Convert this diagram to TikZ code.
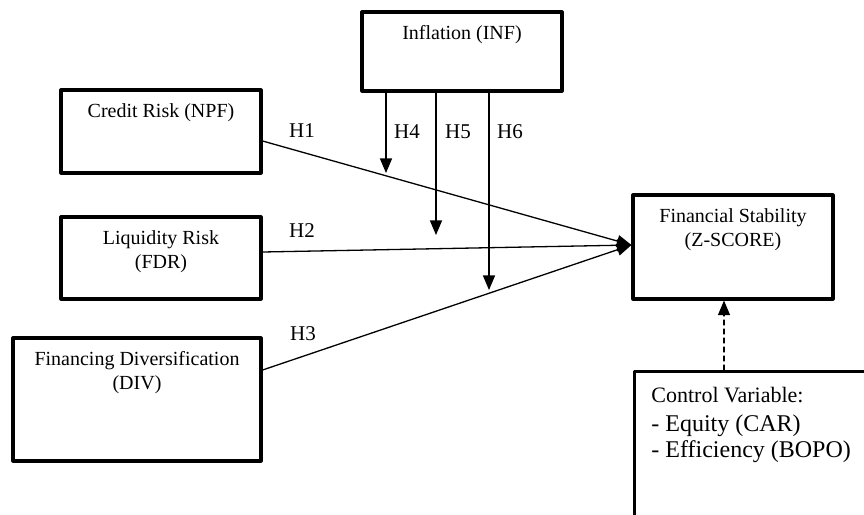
\documentclass[tikz,border=0pt]{standalone}
\usepackage{fontspec}
\setmainfont{Liberation Serif}
\usepackage{tikz}
\usetikzlibrary{arrows}

\tikzset{
  box/.style={draw,rectangle,line width=1.6pt,inner sep=0pt},
  boxtext/.style={anchor=north,align=center,inner sep=2pt,font=\fontsize{10}{11.8}\selectfont},
  link/.style={line width=0.65pt},
  hyp/.style={inner sep=1pt,font=\fontsize{10.5}{12}\selectfont}
}

\begin{document}
\begin{tikzpicture}[line cap=round,line join=round,>=triangle 45,x=0.5pt,y=-0.5pt]
\useasboundingbox (0,0) rectangle (864,515);
\clip (0,0) rectangle (864,515);
% boxes
\node [box,minimum width=100pt,minimum height=39.5pt] (inf) at (462,51.5) {};
\node [box,minimum width=100pt,minimum height=41.5pt] (npf) at (161,131.5) {};
\node [box,minimum width=100pt,minimum height=41pt] (fdr) at (161,258) {};
\node [box,minimum width=124pt,minimum height=61.5pt] (div) at (137,399.5) {};
\node [box,minimum width=100pt,minimum height=52pt] (zscore) at (733,247) {};
\node [box,minimum width=130pt,minimum height=90pt,anchor=north west] (ctrl) at (633,370) {};
% texts
\node [boxtext] (inflbl) at ([yshift=-5.5pt]inf.north) {Inflation (INF)};
\node [boxtext] (npflbl) at ([yshift=-5.5pt]npf.north) {Credit Risk (NPF)};
\node [boxtext] (fdrlbl) at ([yshift=-5.5pt]fdr.north) {Liquidity Risk\\(FDR)};
\node [boxtext] (divlbl) at ([yshift=-5.5pt]div.north) {Financing Diversification\\(DIV)};
\node [boxtext] (zlbl) at ([yshift=-5.5pt]zscore.north) {Financial Stability\\(Z-SCORE)};
\node [boxtext,anchor=north west,align=left,font=\fontsize{12}{13}\selectfont] (ctrllbl) at ([xshift=7pt,yshift=-6.5pt]ctrl.north west)
  {{\fontsize{11}{13}\selectfont Control Variable:}\\[1.5pt]- Equity (CAR)\\- Efficiency (BOPO)};
% direct paths
\draw [link,->] ([yshift=-4.75pt]npf.east) -- ([yshift=1pt]zscore.west);
\draw [link,->] ([yshift=3pt]fdr.east) -- ([yshift=1pt]zscore.west);
\draw [link,->] ([yshift=14.75pt]div.east) -- ([yshift=1pt]zscore.west);
% moderation
\coordinate (h4) at (386,173);
\coordinate (h5) at (436,235);
\coordinate (h6) at (489,290);
\draw [link,->] (inf.south -| h4) -- (h4);
\draw [link,->] (inf.south -| h5) -- (h5);
\draw [link,->] (inf.south -| h6) -- (h6);
% control
\draw [link,->,dash pattern=on 2.5pt off 2pt] ([xshift=-4.5pt]zscore.south |- ctrl.north) -- ([xshift=-4.5pt]zscore.south);
% labels
\node [hyp] (lh1) at (302,131) {H1};
\node [hyp] (lh2) at (302,231) {H2};
\node [hyp] (lh3) at (303,334) {H3};
\node [hyp] (lh4) at (407,132) {H4};
\node [hyp] (lh5) at (458,132) {H5};
\node [hyp] (lh6) at (510,132) {H6};
\end{tikzpicture}
\end{document}
